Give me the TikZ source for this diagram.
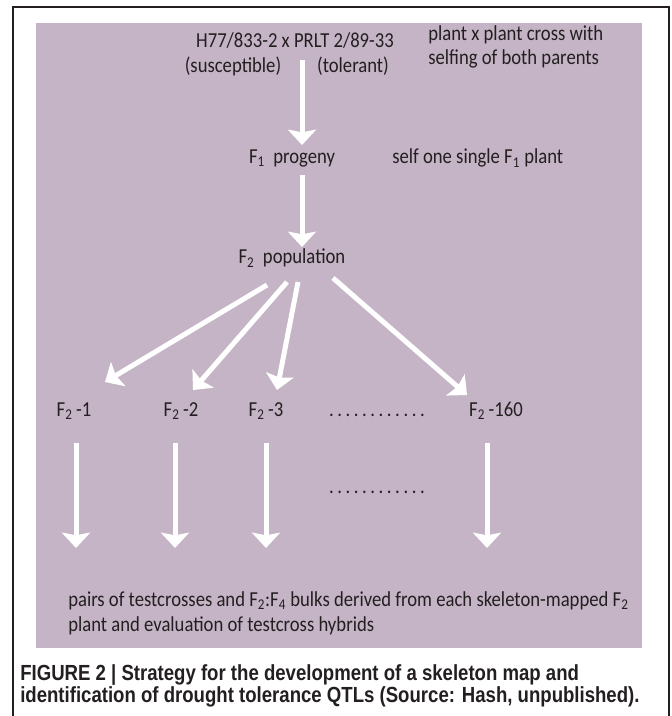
\documentclass[tikz,border=0pt]{standalone}
\usepackage{fontspec}
\setmainfont[FakeStretch=0.875]{Carlito}
\newfontfamily\capfont[FakeStretch=0.85]{Liberation Sans}
\usetikzlibrary{arrows.meta}
\definecolor{boxpink}{HTML}{C5B4C6}
\definecolor{ink}{HTML}{231F20}
\newcommand\dotline{.\,.\,.\,.\,.\,.\,.\,.\,.\,.\,.\,.}

\tikzset{
  lbl/.style={text=ink, font=\fontsize{16}{18.5}\selectfont, inner sep=0pt},
  wharrow/.style={white, line width=3.75pt, -{Stealth[length=11.5pt, width=21pt, inset=2pt]}},
}

\begin{document}
\begin{tikzpicture}[x=0.75pt,y=-0.75pt]
\useasboundingbox (0,0) rectangle (671,716);

% frame and shaded panel
\draw[ink, line width=1.5pt] (13,716) -- (13,7) -- (669,7) -- (669,716);
\fill[boxpink] (36,23) rectangle (642,648);

% cross and first generations
\node[lbl] (parents) at (295,41) {H77/833-2 x PRLT 2/89-33};
\node[lbl] (susc) at (233,66) {(susceptible)};
\node[lbl] (tol) at (353,66) {(tolerant)};
\node[lbl, anchor=west, align=left] (crossnote) at (428,47) {plant x plant cross with\\selfing of both parents};
\node[lbl] (f1) at (292,158) {F\textsubscript{1}\ \ progeny};
\node[lbl, anchor=west] (selfnote) at (392,158) {self one single F\textsubscript{1} plant};
\node[lbl] (f2pop) at (292,258) {F\textsubscript{2}\ \ population};

% single F2 plants
\node[lbl, anchor=base] (fa) at (74,416) {F\textsubscript{2}\,-1};
\node[lbl, anchor=base] (fb) at (181,416) {F\textsubscript{2}\,-2};
\node[lbl, anchor=base] (fc) at (266,416) {F\textsubscript{2}\,-3};
\node[lbl, anchor=base] (dotsa) at (377,416) {\dotline};
\node[lbl, anchor=base] (fd) at (496,416) {F\textsubscript{2}\,-160};
\node[lbl, anchor=base] (dotsb) at (377,493) {\dotline};

\node[lbl, anchor=west, align=left] (bulks) at (68,613) {pairs of testcrosses and F\textsubscript{2}:F\textsubscript{4} bulks derived from each skeleton-mapped F\textsubscript{2}\\plant and evaluation of testcross hybrids};

% caption
\node[text=ink, anchor=west, align=left, inner sep=0pt, font=\capfont\bfseries\fontsize{16.4}{16.5}\selectfont] (caption) at (20,686) {FIGURE 2 | Strategy for the development of a skeleton map and\\identification of drought tolerance QTLs (Source: Hash, unpublished).};

% arrows
\draw[wharrow] ([shift={(7,19)}]parents.center) -- ([shift={(10,-13)}]f1.center);
\draw[wharrow] ([shift={(10,17)}]f1.center) -- ([shift={(10,-11)}]f2pop.center);
\draw[wharrow] ([shift={(-25,27)}]f2pop.center) -- ([shift={(31,-34)}]fa.base);
\draw[wharrow] ([shift={(-5,24)}]f2pop.center) -- ([shift={(12,-26)}]fb.base);
\draw[wharrow] ([shift={(6,24)}]f2pop.center) -- ([shift={(11,-26)}]fc.base);
\draw[wharrow] ([shift={(41,20)}]f2pop.center) -- ([shift={(-29,-21)}]fd.base);
\foreach \n/\dx in {fa/2, fb/-6, fc/0, fd/-9}
  \draw[wharrow] ([shift={(\dx,27)}]\n.base) -- ([shift={(\dx,132)}]\n.base);

\end{tikzpicture}
\end{document}
